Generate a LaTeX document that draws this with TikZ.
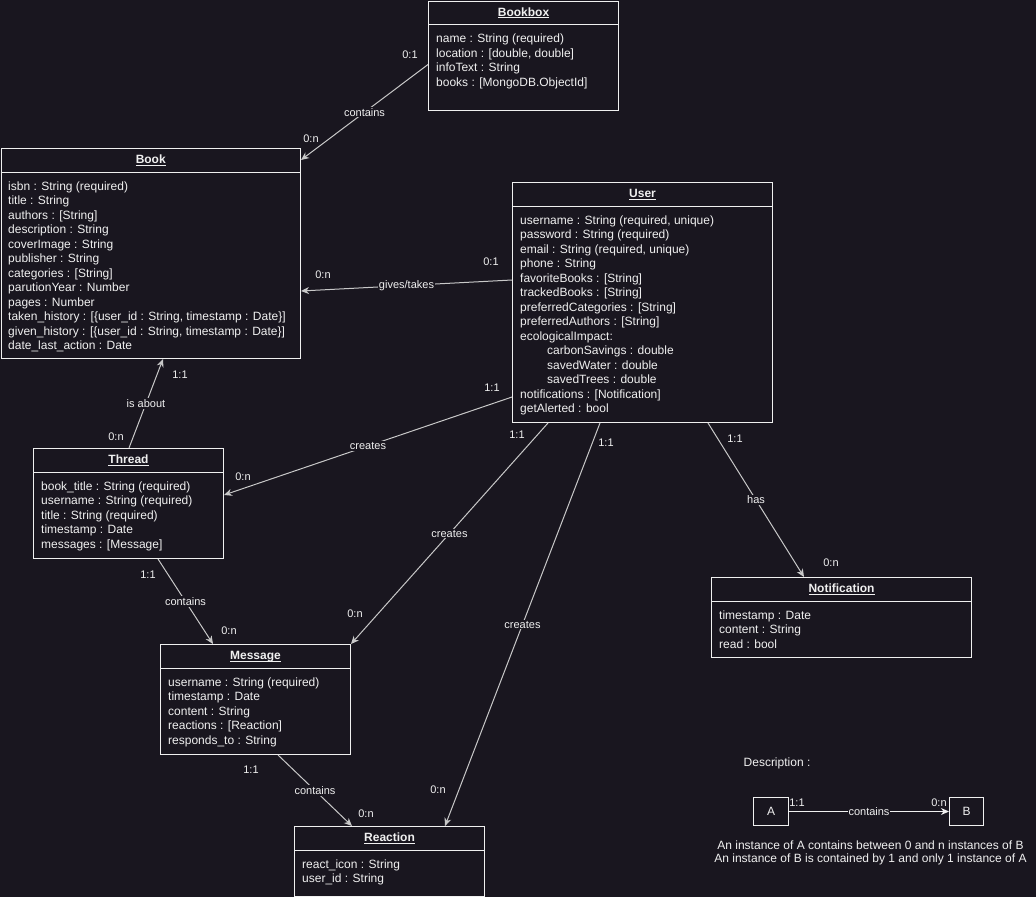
\documentclass[tikz,border=0pt]{standalone}
\usepackage{fontspec}
\setmainfont{Liberation Sans}
\usetikzlibrary{arrows.meta,calc}
\definecolor{bg}{HTML}{19161F}
\definecolor{fg}{HTML}{F0F0F0}
\definecolor{edgec}{HTML}{C8C8C8}
\newcommand{\ulbox}[1]{\setbox0\hbox{#1}\mbox{\rlap{\rule[-2pt]{\wd0}{0.8pt}}\box0}}
\tikzset{
 umlbox/.style={draw=fg, line width=1pt, anchor=north west, inner sep=0pt, fill=bg},
 divline/.style={draw=fg, line width=1pt},
 titletext/.style={anchor=base, font=\bfseries\fontsize{12}{14.5}\selectfont, text=fg, inner sep=0pt},
 attrtext/.style={anchor=north west, align=left, font=\fontsize{12}{14.5}\selectfont, text=fg, inner sep=0pt},
 rel/.style={draw=edgec, line width=1pt, -{Stealth[length=8pt,width=7pt,inset=2.5pt]}},
 rellabel/.style={fill=bg, font=\fontsize{11}{13}\selectfont, text=fg, inner sep=1pt},
 card/.style={font=\fontsize{11}{13}\selectfont, text=fg, inner sep=0pt},
 plain/.style={font=\fontsize{12}{14.5}\selectfont, text=fg, inner sep=0pt},
 legbox/.style={draw=fg, line width=1pt, anchor=north west, inner sep=0pt, font=\fontsize{12}{14.5}\selectfont, text=fg},
}
\begin{document}
\begin{tikzpicture}[x=1pt,y=-1pt]
\fill[bg] (0,0) rectangle (1036,897);
\useasboundingbox (0,0) rectangle (1036,897);

% ---------- Bookbox
\node[umlbox, minimum width=190pt, minimum height=109.5pt] (bookbox) at (428,0.5) {};
\draw[divline] ($(bookbox.north west)+(0,24)$) -- ($(bookbox.north east)+(0,24)$);
\node[titletext] (bookboxT) at ($(bookbox.north)+(0,15.5)$) {\ulbox{Bookbox}};
\node[attrtext] (bookboxA) at ($(bookbox.north west)+(8,32)$) {\strut name : String (required)\\location : [double, double]\\infoText : String\\books : [MongoDB.ObjectId]};

% ---------- Book
\node[umlbox, minimum width=299.5pt, minimum height=210pt] (book) at (0.5,148) {};
\draw[divline] ($(book.north west)+(0,24)$) -- ($(book.north east)+(0,24)$);
\node[titletext] (bookT) at ($(book.north)+(0,15.5)$) {\ulbox{Book}};
\node[attrtext] (bookA) at ($(book.north west)+(7.5,32)$) {\strut isbn : String (required)\\title : String\\authors : [String]\\description : String\\coverImage : String\\publisher : String\\categories : [String]\\parutionYear : Number\\pages : Number\\taken\_history : [\{user\_id : String, timestamp : Date\}]\\given\_history : [\{user\_id : String, timestamp : Date\}]\\date\_last\_action : Date};

% ---------- User
\node[umlbox, minimum width=260pt, minimum height=240pt] (user) at (512,182) {};
\draw[divline] ($(user.north west)+(0,24)$) -- ($(user.north east)+(0,24)$);
\node[titletext] (userT) at ($(user.north)+(0,15.5)$) {\ulbox{User}};
\node[attrtext] (userA) at ($(user.north west)+(8,32)$) {\strut username : String (required, unique)\\password : String (required)\\email : String (required, unique)\\phone : String\\favoriteBooks : [String]\\trackedBooks : [String]\\preferredCategories : [String]\\preferredAuthors : [String]\\ecologicalImpact:\\\hspace*{27pt}carbonSavings : double\\\hspace*{27pt}savedWater : double\\\hspace*{27pt}savedTrees : double\\notifications : [Notification]\\getAlerted : bool};

% ---------- Thread
\node[umlbox, minimum width=190pt, minimum height=110pt] (thread) at (33,448) {};
\draw[divline] ($(thread.north west)+(0,24)$) -- ($(thread.north east)+(0,24)$);
\node[titletext] (threadT) at ($(thread.north)+(0,15.5)$) {\ulbox{Thread}};
\node[attrtext] (threadA) at ($(thread.north west)+(8,32)$) {\strut book\_title : String (required)\\username : String (required)\\title : String (required)\\timestamp : Date\\messages : [Message]};

% ---------- Message
\node[umlbox, minimum width=190pt, minimum height=110pt] (message) at (160,644) {};
\draw[divline] ($(message.north west)+(0,24)$) -- ($(message.north east)+(0,24)$);
\node[titletext] (messageT) at ($(message.north)+(0,15.5)$) {\ulbox{Message}};
\node[attrtext] (messageA) at ($(message.north west)+(8,32)$) {\strut username : String (required)\\timestamp : Date\\content : String\\reactions : [Reaction]\\responds\_to : String};

% ---------- Reaction
\node[umlbox, minimum width=190pt, minimum height=70pt] (reaction) at (294,826) {};
\draw[divline] ($(reaction.north west)+(0,24)$) -- ($(reaction.north east)+(0,24)$);
\node[titletext] (reactionT) at ($(reaction.north)+(0,15.5)$) {\ulbox{Reaction}};
\node[attrtext] (reactionA) at ($(reaction.north west)+(8,32)$) {\strut react\_icon : String\\user\_id : String};

% ---------- Notification
\node[umlbox, minimum width=260pt, minimum height=80pt] (notif) at (711,577) {};
\draw[divline] ($(notif.north west)+(0,24)$) -- ($(notif.north east)+(0,24)$);
\node[titletext] (notifT) at ($(notif.north)+(0,15.5)$) {\ulbox{Notification}};
\node[attrtext] (notifA) at ($(notif.north west)+(8,32)$) {\strut timestamp : Date\\content : String\\read : bool};

% ---------- Relations
\draw[rel] ($(bookbox.north west)+(0,64)$) -- node[rellabel] (l1) {contains} ($(book.north east)+(0,12)$);
\node[card] (c1a) at (410,55) {0:1};
\node[card] (c1b) at (311,139) {0:n};

\draw[rel] ($(user.north west)+(0,98)$) -- node[rellabel] (l2) {gives/takes} ($(book.north east)+(0,143)$);
\node[card] (c2a) at (491,262) {0:1};
\node[card] (c2b) at (323,275) {0:n};

\draw[rel] ($(thread.north west)+(96,0)$) -- node[rellabel] (l3) {is about} ($(book.south west)+(162.5,0)$);
\node[card] (c3a) at (180,375) {1:1};
\node[card] (c3b) at (116,437) {0:n};

\draw[rel] ($(user.north west)+(0,215)$) -- node[rellabel] (l4) {creates} ($(thread.north east)+(0,47)$);
\node[card] (c4a) at (492,388) {1:1};
\node[card] (c4b) at (243,477) {0:n};

\draw[rel] ($(user.south west)+(36,0)$) -- node[rellabel] (l5) {creates} (message.north east);
\node[card] (c5a) at (517,435) {1:1};
\node[card] (c5b) at (355,614) {0:n};

\draw[rel] ($(user.south west)+(88,0)$) -- node[rellabel] (l6) {creates} ($(reaction.north west)+(151,0)$);
\node[card] (c6a) at (606,443) {1:1};
\node[card] (c6b) at (438,790) {0:n};

\draw[rel] ($(user.south west)+(196,0)$) -- node[rellabel] (l7) {has} ($(notif.north west)+(93,0)$);
\node[card] (c7a) at (735,439) {1:1};
\node[card] (c7b) at (831,563) {0:n};

\draw[rel] ($(thread.south west)+(125,0)$) -- node[rellabel] (l8) {contains} ($(message.north west)+(53,0)$);
\node[card] (c8a) at (148,575) {1:1};
\node[card] (c8b) at (229,631) {0:n};

\draw[rel] ($(message.south west)+(118,0)$) -- node[rellabel] (l9) {contains} ($(reaction.north west)+(58,0)$);
\node[card] (c9a) at (251,770) {1:1};
\node[card] (c9b) at (366,814) {0:n};

% ---------- Legend
\node[plain] (desc) at (777,763) {Description :};
\node[legbox, minimum width=35pt, minimum height=28pt] (legA) at (753,797) {A};
\node[legbox, minimum width=34pt, minimum height=28pt] (legB) at (949,797) {B};
\draw[rel, draw=fg] (legA.east) -- node[rellabel] (legL) {contains} (legB.west);
\node[card] (legc1) at (797,803) {1:1};
\node[card] (legc2) at (939,803) {0:n};
\node[plain] (legT1) at (870.5,845) {An instance of A contains between 0 and n instances of B};
\node[plain] (legT2) at (870.5,859.5) {An instance of B is contained by 1 and only 1 instance of A};
\end{tikzpicture}
\end{document}
